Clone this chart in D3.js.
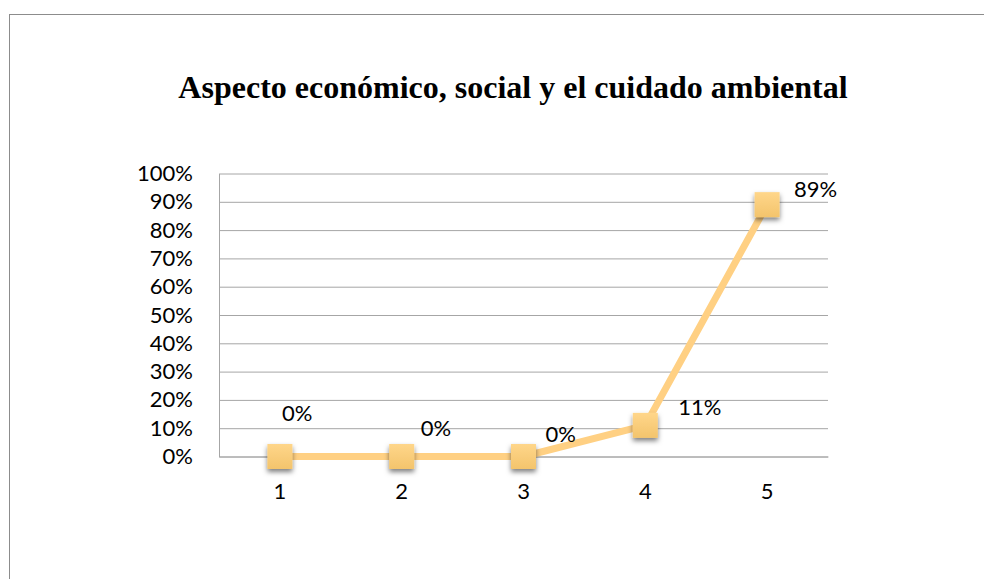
<!DOCTYPE html>
<html>
<head>
<meta charset="utf-8">
<script src="https://cdn.jsdelivr.net/npm/d3@7"></script>
<style>
  body { margin: 0; background: #fff; }
  svg { display: block; }
</style>
</head>
<body>
<div id="chart"></div>
<script>
// Chart data
const title = 'Aspecto económico, social y el cuidado ambiental';
const categories = ['1', '2', '3', '4', '5'];
const values = [0, 0, 0, 0.11, 0.89];
const yTicks = [0, 0.1, 0.2, 0.3, 0.4, 0.5, 0.6, 0.7, 0.8, 0.9, 1];

// Data label offsets (dx, dy) from each point, as Excel placed them
const labelOffsets = [[2, -41], [19, -26], [22, -20], [33, -16], [27, -13]];

const width = 984, height = 579;
const plot = { left: 219, right: 828, top: 173.5, bottom: 456.5 };
const labelFont = 'Lato, "Open Sans", sans-serif';

const svg = d3.select('#chart')
    .append('svg')
    .attr('width', width)
    .attr('height', height);

// Chart frame
svg.append('rect')
    .attr('x', 9.5)
    .attr('y', 14.5)
    .attr('width', 1000)
    .attr('height', 600)
    .attr('fill', '#fff')
    .attr('stroke', '#8c8c8c')
    .attr('stroke-width', 1);

// Title
svg.append('text')
    .attr('x', 513)
    .attr('y', 98)
    .attr('text-anchor', 'middle')
    .style('font-family', '"Liberation Serif", "Times New Roman", serif')
    .style('font-weight', 'bold')
    .style('font-size', '32px')
    .text(title);

// Scales
const xScale = d3.scaleBand()
    .domain(categories)
    .range([plot.left, plot.right]);

const yScale = d3.scaleLinear()
    .domain([0, 1])
    .range([plot.bottom, plot.top]);

// Grid lines
svg.append('g')
    .attr('transform', `translate(${plot.left},0)`)
    .call(d3.axisRight(yScale)
        .tickValues(yTicks)
        .tickSize(plot.right - plot.left)
        .tickFormat(''))
    .call(g => g.select('.domain').remove())
    .selectAll('line')
    .attr('stroke', '#a6a6a6')
    .attr('stroke-width', 1);

// Y axis
svg.append('g')
    .attr('transform', `translate(${plot.left},0)`)
    .call(d3.axisLeft(yScale)
        .tickValues(yTicks)
        .tickSize(0)
        .tickPadding(26)
        .tickFormat(d3.format('.0%')))
    .call(g => g.select('.domain').attr('stroke', '#a6a6a6'))
    .selectAll('text')
    .style('font-family', labelFont)
    .style('font-size', '22px')
    .attr('fill', '#000');

// X axis
svg.append('g')
    .attr('transform', `translate(0,${plot.bottom})`)
    .call(d3.axisBottom(xScale).tickSize(0).tickPadding(27))
    .call(g => g.select('.domain').attr('stroke', '#a6a6a6'))
    .selectAll('text')
    .style('font-family', labelFont)
    .style('font-size', '22px')
    .attr('fill', '#000');

const points = categories.map((c, i) => ({
    cat: c,
    value: values[i],
    x: xScale(c) + xScale.bandwidth() / 2,
    y: yScale(values[i]),
    off: labelOffsets[i]
}));

// Defs: marker gradient and shadow
const defs = svg.append('defs');
const grad = defs.append('linearGradient')
    .attr('id', 'markerFill')
    .attr('x1', 0).attr('y1', 0).attr('x2', 0).attr('y2', 1);
grad.append('stop').attr('offset', '0%').attr('stop-color', '#ffd68a');
grad.append('stop').attr('offset', '100%').attr('stop-color', '#f3c46c');

const shadow = defs.append('filter')
    .attr('id', 'shadow')
    .attr('x', '-50%').attr('y', '-50%')
    .attr('width', '200%').attr('height', '200%');
shadow.append('feDropShadow')
    .attr('dx', 0)
    .attr('dy', 3)
    .attr('stdDeviation', 2.5)
    .attr('flood-color', '#000')
    .attr('flood-opacity', 0.5);

// Line
const line = d3.line()
    .x(d => d.x)
    .y(d => d.y);

svg.append('path')
    .datum(points)
    .attr('d', line)
    .attr('fill', 'none')
    .attr('stroke', '#ffd083')
    .attr('stroke-width', 7)
    .attr('stroke-linejoin', 'round');

// Markers
const size = 25;
svg.selectAll('.marker')
    .data(points)
    .enter()
    .append('rect')
    .attr('class', 'marker')
    .attr('x', d => d.x - size / 2)
    .attr('y', d => d.y - size / 2)
    .attr('width', size)
    .attr('height', size)
    .attr('fill', 'url(#markerFill)')
    .attr('filter', 'url(#shadow)');

// Data labels
svg.selectAll('.data-label')
    .data(points)
    .enter()
    .append('text')
    .attr('class', 'data-label')
    .attr('x', d => d.x + d.off[0])
    .attr('y', d => d.y + d.off[1])
    .attr('dominant-baseline', 'middle')
    .style('font-family', labelFont)
    .style('font-size', '22px')
    .attr('fill', '#000')
    .text(d => d3.format('.0%')(d.value));
</script>
</body>
</html>
